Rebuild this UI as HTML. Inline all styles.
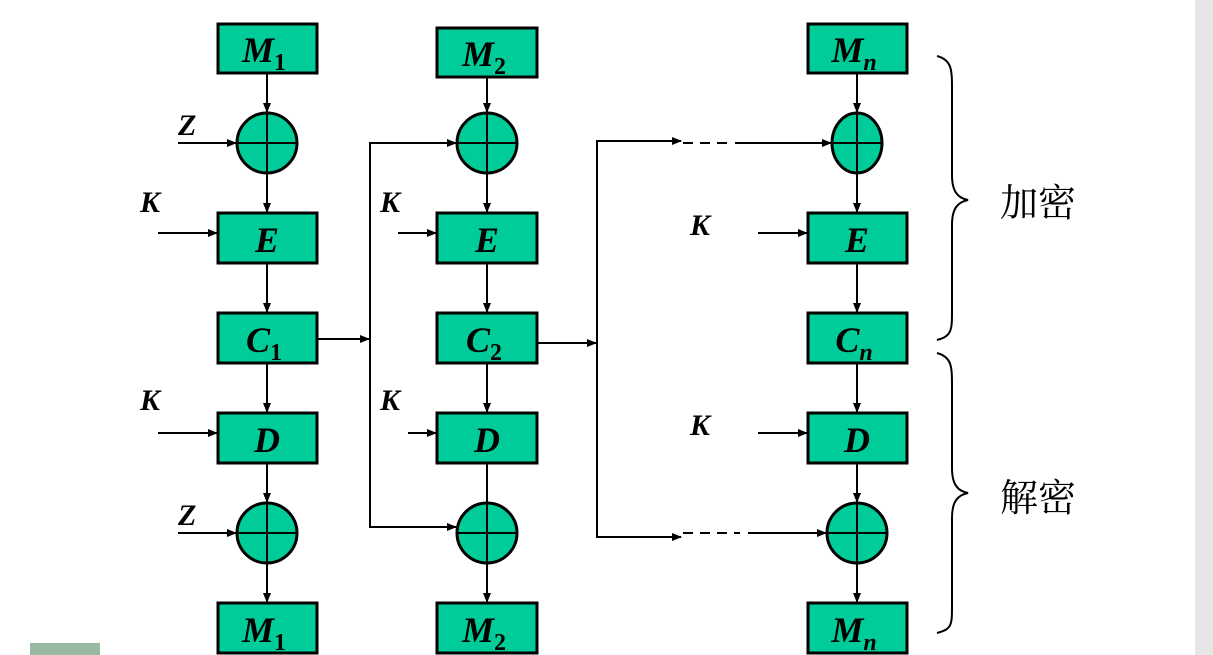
<!DOCTYPE html>
<html><head><meta charset="utf-8"><style>
html,body{margin:0;padding:0;background:#fff;}
svg{display:block}
.b{fill:#00cc99;stroke:#000;stroke-width:3}
.l{stroke:#000;stroke-width:2;fill:none}
.t{font-family:"Liberation Serif",serif;font-weight:bold;font-style:italic;font-size:36px;fill:#000}
.s{font-family:"Liberation Serif",serif;font-weight:bold;font-style:normal;font-size:24px;fill:#000}
.si{font-family:"Liberation Serif",serif;font-weight:bold;font-style:italic;font-size:24px;fill:#000}
.k{font-family:"Liberation Serif",serif;font-weight:bold;font-style:italic;font-size:30px;fill:#000}
.c{font-family:"Liberation Serif","Noto Serif CJK SC",serif;font-size:38px;fill:#000}
</style></head><body>
<svg width="1213" height="655" viewBox="0 0 1213 655">
<defs>
<marker id="a" markerWidth="10" markerHeight="8" refX="9" refY="4" orient="auto" markerUnits="userSpaceOnUse"><path d="M0,0 L10,4 L0,8 z" fill="#000"/></marker>
</defs>
<rect x="1195" y="0" width="18" height="655" fill="#e6e6e6"/>
<rect x="30" y="643" width="70" height="12" fill="#7fa88a" opacity="0.8"/>

<g>
<line class="l" x1="267" y1="73" x2="267" y2="112" marker-end="url(#a)"/>
<line class="l" x1="178" y1="143" x2="236" y2="143" marker-end="url(#a)"/>
<line class="l" x1="267" y1="173" x2="267" y2="212" marker-end="url(#a)"/>
<line class="l" x1="158" y1="233" x2="217" y2="233" marker-end="url(#a)"/>
<line class="l" x1="267" y1="263" x2="267" y2="312" marker-end="url(#a)"/>
<line class="l" x1="267" y1="363" x2="267" y2="412" marker-end="url(#a)"/>
<line class="l" x1="158" y1="433" x2="217" y2="433" marker-end="url(#a)"/>
<line class="l" x1="267" y1="463" x2="267" y2="502" marker-end="url(#a)"/>
<line class="l" x1="178" y1="533" x2="236" y2="533" marker-end="url(#a)"/>
<line class="l" x1="267" y1="563" x2="267" y2="602" marker-end="url(#a)"/>
<line class="l" x1="317" y1="339" x2="369" y2="339" marker-end="url(#a)"/>
</g>
<g>
<line class="l" x1="487" y1="77" x2="487" y2="112" marker-end="url(#a)"/>
<line class="l" x1="487" y1="173" x2="487" y2="212" marker-end="url(#a)"/>
<line class="l" x1="398" y1="233" x2="436" y2="233" marker-end="url(#a)"/>
<line class="l" x1="487" y1="263" x2="487" y2="312" marker-end="url(#a)"/>
<line class="l" x1="487" y1="363" x2="487" y2="412" marker-end="url(#a)"/>
<line class="l" x1="408" y1="433" x2="436" y2="433" marker-end="url(#a)"/>
<line class="l" x1="487" y1="463" x2="487" y2="512" marker-end="url(#a)"/>
<line class="l" x1="487" y1="563" x2="487" y2="602" marker-end="url(#a)"/>
<polyline class="l" points="456,143 370,143 370,527 456,527"/>
<line class="l" x1="440" y1="143" x2="456" y2="143" marker-end="url(#a)"/>
<line class="l" x1="440" y1="527" x2="456" y2="527" marker-end="url(#a)"/>
<line class="l" x1="537" y1="343" x2="596" y2="343" marker-end="url(#a)"/>
</g>
<g>
<line class="l" x1="857" y1="73" x2="857" y2="112" marker-end="url(#a)"/>
<line class="l" x1="857" y1="173" x2="857" y2="212" marker-end="url(#a)"/>
<line class="l" x1="758" y1="233" x2="807" y2="233" marker-end="url(#a)"/>
<line class="l" x1="857" y1="263" x2="857" y2="312" marker-end="url(#a)"/>
<line class="l" x1="857" y1="363" x2="857" y2="412" marker-end="url(#a)"/>
<line class="l" x1="758" y1="433" x2="807" y2="433" marker-end="url(#a)"/>
<line class="l" x1="857" y1="463" x2="857" y2="502" marker-end="url(#a)"/>
<line class="l" x1="857" y1="563" x2="857" y2="602" marker-end="url(#a)"/>
<polyline class="l" points="680,141 597,141 597,537 680,537"/>
<line class="l" x1="665" y1="141" x2="681" y2="141" marker-end="url(#a)"/>
<line class="l" x1="665" y1="537" x2="681" y2="537" marker-end="url(#a)"/>
<line class="l" x1="683" y1="143" x2="730" y2="143" stroke-dasharray="10,7"/>
<line class="l" x1="735" y1="143" x2="831" y2="143" marker-end="url(#a)"/>
<line class="l" x1="683" y1="533" x2="740" y2="533" stroke-dasharray="10,7"/>
<line class="l" x1="748" y1="533" x2="826" y2="533" marker-end="url(#a)"/>
</g>

<g>
<rect class="b" x="218" y="24" width="99" height="49"/>
<rect class="b" x="218" y="213" width="99" height="50"/>
<rect class="b" x="218" y="313" width="99" height="50"/>
<rect class="b" x="218" y="413" width="99" height="50"/>
<rect class="b" x="218" y="603" width="99" height="50"/>
<rect class="b" x="437" y="28" width="100" height="49"/>
<rect class="b" x="437" y="213" width="100" height="50"/>
<rect class="b" x="437" y="313" width="100" height="50"/>
<rect class="b" x="437" y="413" width="100" height="50"/>
<rect class="b" x="437" y="603" width="100" height="50"/>
<rect class="b" x="808" y="24" width="99" height="49"/>
<rect class="b" x="808" y="213" width="99" height="50"/>
<rect class="b" x="808" y="313" width="99" height="50"/>
<rect class="b" x="808" y="413" width="99" height="50"/>
<rect class="b" x="808" y="603" width="99" height="50"/>
</g>
<g>
<circle class="b" cx="267" cy="143" r="30"/><path class="l" stroke-width="3" d="M237,143H297M267,113V173"/>
<circle class="b" cx="267" cy="533" r="30"/><path class="l" stroke-width="3" d="M237,533H297M267,503V563"/>
<circle class="b" cx="487" cy="143" r="30"/><path class="l" stroke-width="3" d="M457,143H517M487,113V173"/>
<circle class="b" cx="487" cy="533" r="30"/><path class="l" stroke-width="3" d="M457,533H517M487,503V563"/>
<ellipse class="b" cx="857" cy="143" rx="25" ry="30"/><path class="l" stroke-width="3" d="M832,143H882M857,113V173"/>
<circle class="b" cx="857" cy="533" r="30"/><path class="l" stroke-width="3" d="M827,533H887M857,503V563"/>
</g>

<g class="t" text-anchor="middle">
<text x="264" y="62">M<tspan class="s" dy="8">1</tspan></text>
<text x="267" y="252">E</text>
<text x="264" y="352">C<tspan class="s" dy="8">1</tspan></text>
<text x="267" y="452">D</text>
<text x="264" y="642">M<tspan class="s" dy="8">1</tspan></text>
<text x="484" y="66">M<tspan class="s" dy="8">2</tspan></text>
<text x="487" y="252">E</text>
<text x="484" y="352">C<tspan class="s" dy="8">2</tspan></text>
<text x="487" y="452">D</text>
<text x="484" y="642">M<tspan class="s" dy="8">2</tspan></text>
<text x="854" y="62">M<tspan class="si" dy="8">n</tspan></text>
<text x="857" y="252">E</text>
<text x="854" y="352">C<tspan class="si" dy="8">n</tspan></text>
<text x="857" y="452">D</text>
<text x="854" y="642">M<tspan class="si" dy="8">n</tspan></text>
</g>
<g class="k">
<text x="178" y="135">Z</text>
<text x="140" y="212">K</text>
<text x="140" y="410">K</text>
<text x="178" y="525">Z</text>
<text x="380" y="212">K</text>
<text x="380" y="410">K</text>
<text x="690" y="235">K</text>
<text x="690" y="435">K</text>
</g>

<path class="l" d="M937,56 C952,60 952,70 952,90 L952,175 C952,192 958,198 968,200 C958,202 952,208 952,225 L952,310 C952,330 952,336 937,340"/>
<path class="l" d="M937,353 C952,357 952,367 952,387 L952,468 C952,485 958,491 968,493 C958,495 952,501 952,518 L952,605 C952,625 952,629 937,633"/>
<text class="c" x="1000" y="216">加密</text>
<text class="c" x="1000" y="511">解密</text>
</svg>
</body></html>
